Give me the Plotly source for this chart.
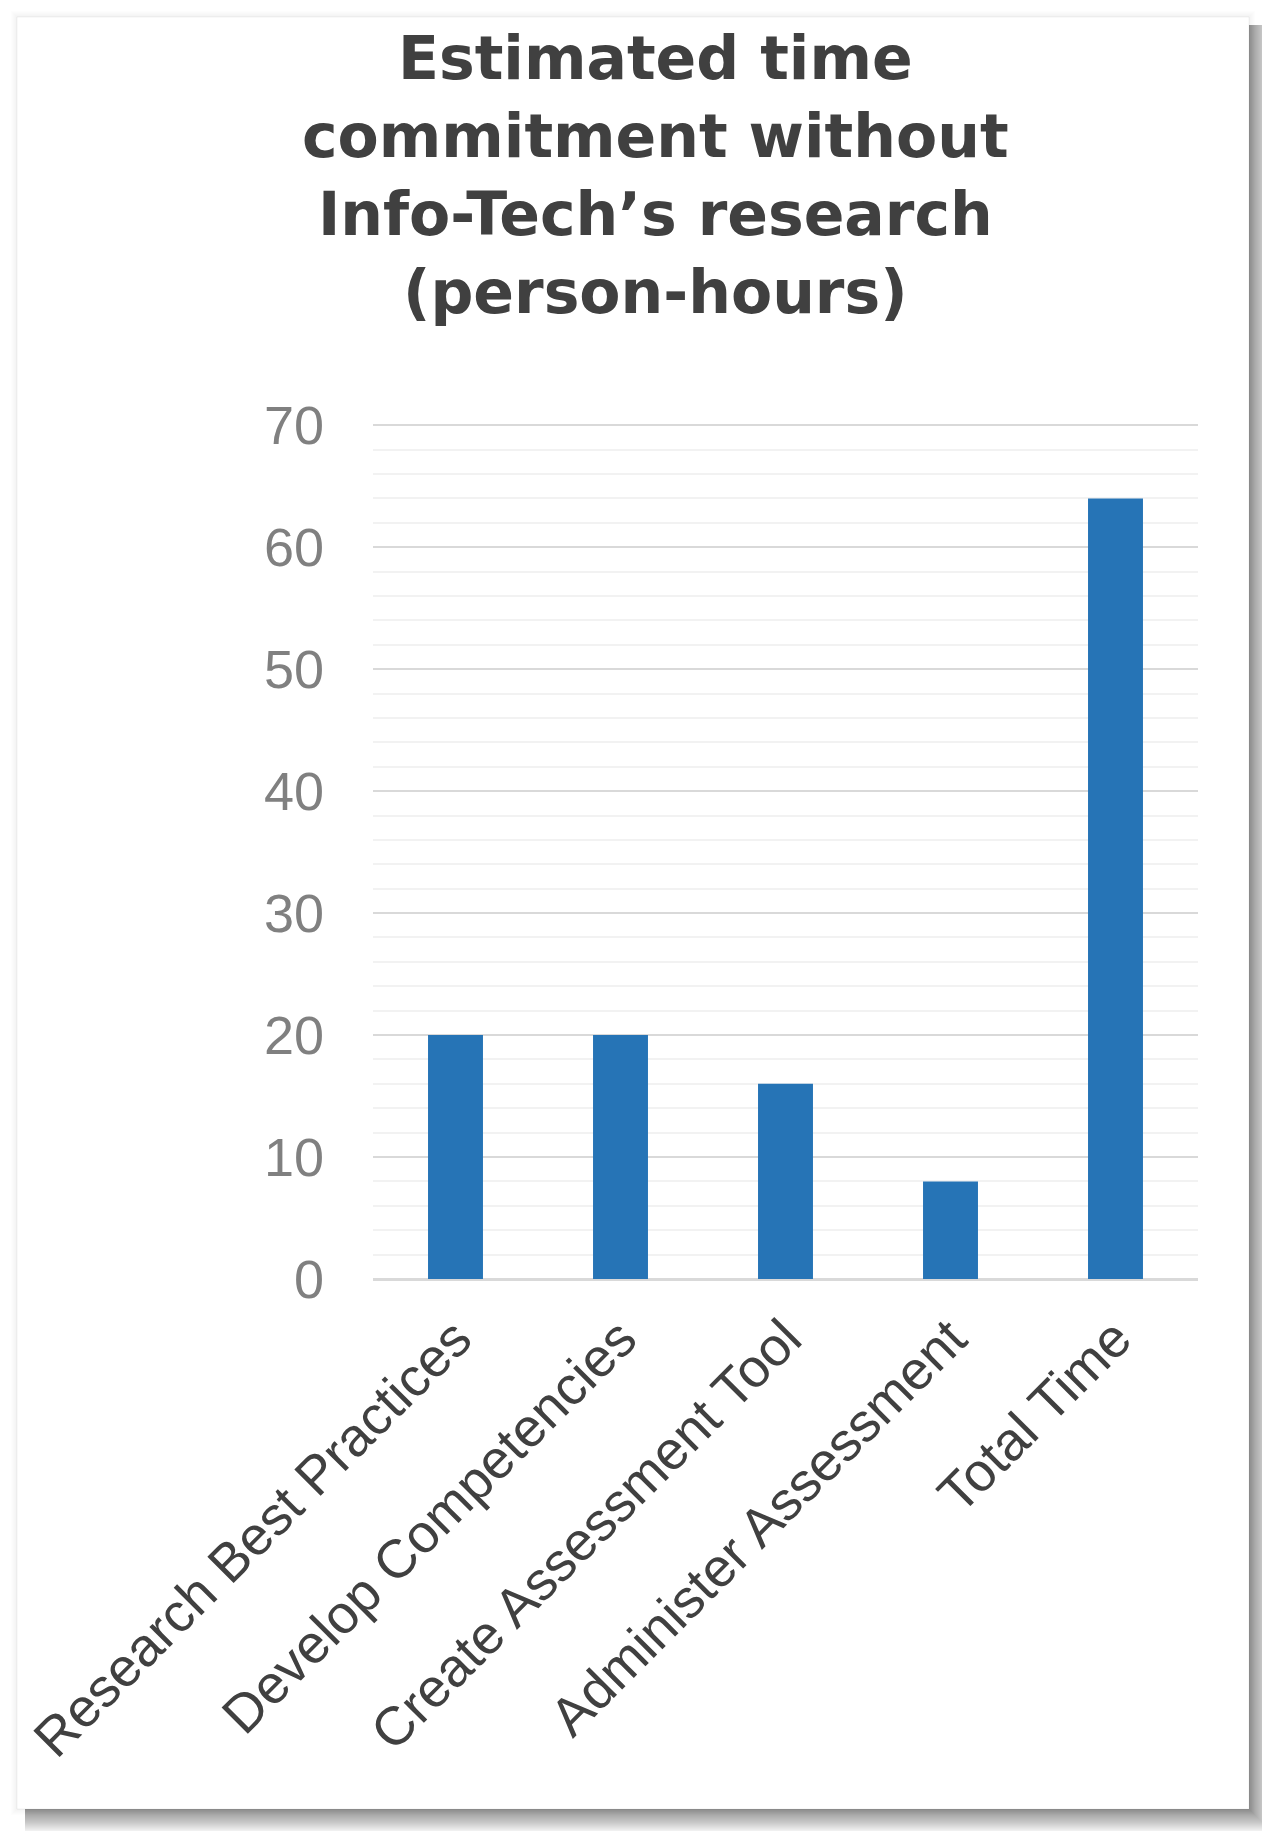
import plotly.graph_objects as go

categories = [
    "Research Best Practices",
    "Develop Competencies",
    "Create Assessment Tool",
    "Administer Assessment",
    "Total Time",
]
hours = [20, 20, 16, 8, 64]
y_ticks = [0, 10, 20, 30, 40, 50, 60, 70]

title_text = "Estimated time<br>commitment without<br>Info-Tech\u2019s research<br>(person-hours)"

W, H = 1270, 1831
L, R, T, B = 365, 1190, 416, 1271
CARD = (9, 9, 1241, 1801)


def px_x(x):
    return (x - L) / (R - L)


def px_y(y):
    return (B - y) / (B - T)


fig = go.Figure()

fig.add_trace(go.Bar(
    x=categories,
    y=hours,
    marker=dict(color="#2674b6", line=dict(width=0)),
    hoverinfo="x+y",
))

# card with soft drop shadow (stacked translucent rects)
shapes = []
for k in range(1, 7):
    shapes.append(dict(
        type="rect", xref="paper", yref="paper", layer="below",
        x0=px_x(CARD[0] - k), y0=px_y(CARD[1] - k),
        x1=px_x(CARD[2] + k), y1=px_y(CARD[3] + k),
        fillcolor="rgba(0,0,0,0.008)", line=dict(width=0),
    ))
for k in range(1, 25):
    shapes.append(dict(
        type="rect", xref="paper", yref="paper", layer="below",
        x0=px_x(CARD[0] + 8), y0=px_y(CARD[1] + 8),
        x1=px_x(CARD[2] + k), y1=px_y(CARD[3] + k),
        fillcolor="rgba(0,0,0,0.02)", line=dict(width=0),
    ))
shapes.append(dict(
    type="rect", xref="paper", yref="paper", layer="below",
    x0=px_x(CARD[0]), y0=px_y(CARD[1]), x1=px_x(CARD[2]), y1=px_y(CARD[3]),
    fillcolor="white", line=dict(color="rgba(0,0,0,0.05)", width=1),
))

fig.update_layout(
    width=W,
    height=H,
    margin=dict(l=L, r=W - R, t=T, b=H - B),
    paper_bgcolor="white",
    plot_bgcolor="rgba(0,0,0,0)",
    showlegend=False,
    bargap=0.667,
    shapes=shapes,
    annotations=[dict(
        text=title_text,
        xref="paper", yref="paper",
        x=px_x(647), y=px_y(13),
        xanchor="center", yanchor="top",
        showarrow=False,
        align="center",
        font=dict(family="DejaVu Sans", size=60, color="#404040", weight="bold"),
    )],
    font=dict(family="Liberation Sans, Arial", size=54),
    xaxis=dict(
        tickangle=-45,
        tickfont=dict(color="#404040", size=54),
        showgrid=False,
        showline=False,
        ticks="",
        ticklabelstandoff=16,
        automargin=False,
    ),
    yaxis=dict(
        range=[0, 70.1],
        tickvals=y_ticks,
        tickfont=dict(color="#808080", size=54),
        showgrid=True,
        gridcolor="#d9d9d9",
        gridwidth=2,
        zeroline=True,
        zerolinecolor="#d9d9d9",
        zerolinewidth=3,
        showline=False,
        ticks="",
        ticklabelstandoff=48,
        automargin=False,
        minor=dict(dtick=2, showgrid=True, gridcolor="#f2f2f2", gridwidth=2),
    ),
)

fig.write_html("out.html")
